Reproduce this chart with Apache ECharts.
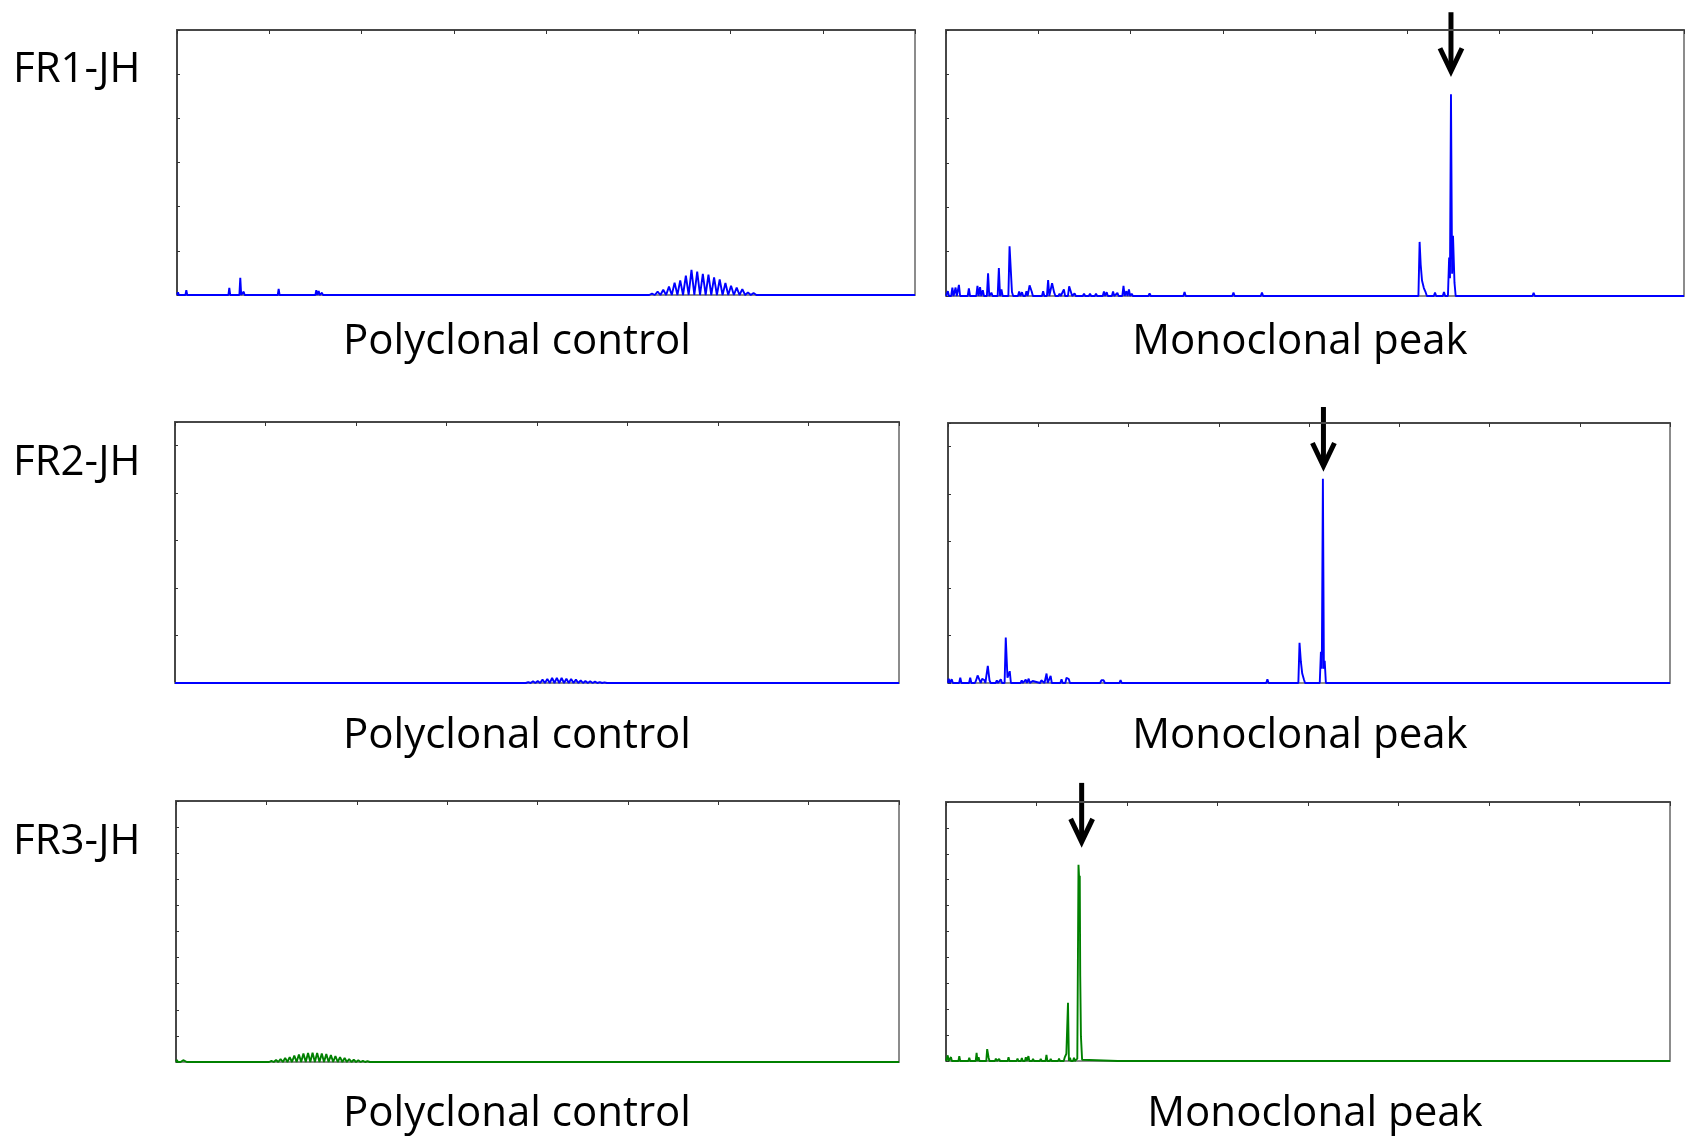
<!DOCTYPE html>
<html>
<head>
<meta charset="utf-8">
<script src="https://cdn.jsdelivr.net/npm/echarts@6/dist/echarts.min.js"></script>
<style>
  html, body { margin: 0; padding: 0; background: #fff; }
  #chart { width: 1694px; height: 1136px; }
</style>
</head>
<body>
<div id="chart"></div>
<script>
// x runs 0..800 across every panel (8 tick intervals), y is in left-axis tick units
const rowLabels = ["FR1-JH", "FR2-JH", "FR3-JH"];
const colTitles = ["Polyclonal control", "Monoclonal peak"];

// FR1-JH polyclonal: isolated spikes + the comb of peaks
const fr1PolySpikes = [
  [1.1, 0.06], [10.1, 0.11], [56.7, 0.16], [68.6, 0.39], [72.3, 0.075], [99.4, 0.04],
  [110.2, 0.14], [118.2, 0.03], [123.6, 0.03], [129.0, 0.03], [134.4, 0.03], [139.8, 0.03],
  [151.0, 0.11], [153.6, 0.09], [157.2, 0.05], [175.6, 0.02], [225.5, 0.04], [258.0, 0.02]
];
const fr1PolyComb = [
  [514.9, 0.03], [521.0, 0.075], [527.1, 0.12], [533.3, 0.19], [539.4, 0.28], [545.5, 0.33],
  [551.6, 0.44], [557.7, 0.57], [563.9, 0.53], [570.0, 0.48], [576.1, 0.46], [582.2, 0.40],
  [588.3, 0.35], [594.5, 0.27], [600.6, 0.21], [606.7, 0.165], [612.8, 0.135], [618.9, 0.06],
  [625.0, 0.045]
];

// FR1-JH monoclonal
const fr1MonoSpikes = [
  [2.0, 0.11], [6.9, 0.19], [10.4, 0.19], [14.0, 0.25], [24.8, 0.17], [34.1, 0.23], [36.9, 0.2],
  [39.9, 0.13], [45.6, 0.51], [49.2, 0.075], [57.3, 0.63], [60.1, 0.15], [68.9, 1.12], [71.5, 0.09],
  [79.3, 0.1], [82.4, 0.085], [87.2, 0.11], [90.6, 0.24], [92.9, 0.1], [105.3, 0.11], [110.7, 0.36],
  [115.0, 0.29], [117.3, 0.075], [123.1, 0.05], [127.8, 0.15], [133.5, 0.22], [135.5, 0.19],
  [139.4, 0.06], [149.6, 0.05], [156.1, 0.05], [162.6, 0.05], [171.2, 0.1], [174.2, 0.085],
  [181.1, 0.1], [185.8, 0.07], [192.4, 0.23], [195.5, 0.11], [198.3, 0.15], [201.3, 0.05],
  [220.7, 0.06], [236.2, 0.045], [258.6, 0.09], [293.4, 0.045], [311.6, 0.075], [325.2, 0.045],
  [342.5, 0.075], [377.2, 0.03], [410.4, 0.04], [460.7, 0.04], [497.6, 0.04],
  [513.4, 1.22], [514.6, 0.7], [516.0, 0.35], [518.0, 0.18], [520.0, 0.08], [530.1, 0.075],
  [539.8, 0.09], [545.4, 0.87], [546.3, 0.4], [547.4, 4.55], [548.6, 0.5], [549.6, 1.36], [551.2, 0.3],
  [577.8, 0.03], [594.0, 0.04], [614.6, 0.03], [637.0, 0.07], [742.5, 0.045]
];

// FR2-JH polyclonal
const fr2PolySpikes = [[4.0, 0.03]];
const fr2PolyComb = [
  [390.3, 0.02], [395.6, 0.035], [400.8, 0.04], [406.1, 0.07], [411.4, 0.085], [416.7, 0.105],
  [421.9, 0.11], [427.2, 0.105], [432.5, 0.09], [437.7, 0.085], [443.0, 0.07], [448.3, 0.057],
  [453.5, 0.042], [458.8, 0.035], [464.1, 0.028], [469.4, 0.02], [474.6, 0.015]
];

// FR2-JH monoclonal
const fr2MonoSpikes = [
  [0.8, 0.09], [4.1, 0.08], [13.6, 0.11], [24.6, 0.11], [31.2, 0.06], [32.8, 0.16], [35.0, 0.14],
  [37.8, 0.09], [40.1, 0.063], [44.1, 0.36], [46.0, 0.057], [54.1, 0.057], [58.5, 0.078],
  [64.0, 0.96], [65.9, 0.11], [68.4, 0.25], [76.1, 0.042], [81.7, 0.057], [86.1, 0.07],
  [89.4, 0.09], [93.8, 0.042], [103.4, 0.057], [105.6, 0.063], [109.2, 0.2], [113.7, 0.15],
  [120.3, 0.042], [125.8, 0.078], [131.3, 0.11], [133.8, 0.085], [149.7, 0.028], [169.9, 0.057],
  [172.5, 0.057], [191.2, 0.063], [197.5, 0.036], [353.9, 0.078],
  [389.5, 0.85], [391.0, 0.45], [392.5, 0.2], [394.3, 0.08],
  [413.2, 0.66], [414.2, 0.3], [415.4, 4.32], [416.5, 0.3], [417.4, 0.47], [425.6, 0.02], [448.0, 0.015]
];

// FR3-JH polyclonal
const fr3PolySpikes = [[1.0, 0.08], [4.0, 0.06], [8.0, 0.07], [13.0, 0.03]];
const fr3PolyComb = [
  [105.6, 0.04], [110.7, 0.077], [115.7, 0.115], [120.8, 0.153], [125.8, 0.19], [130.9, 0.25],
  [136.0, 0.29], [141.0, 0.33], [146.1, 0.345], [151.1, 0.356], [156.2, 0.345], [161.3, 0.33],
  [166.3, 0.31], [171.4, 0.27], [176.4, 0.23], [181.5, 0.19], [186.6, 0.153], [191.6, 0.115],
  [196.7, 0.088], [201.7, 0.065], [206.8, 0.046], [211.9, 0.03]
];

// FR3-JH monoclonal
const fr3MonoSpikes = [
  [1.9, 0.22], [5.5, 0.15], [14.7, 0.19], [25.7, 0.13], [33.8, 0.31], [36.0, 0.15], [45.5, 0.46],
  [47.1, 0.13], [55.1, 0.09], [58.7, 0.08], [69.1, 0.15], [79.0, 0.09], [83.8, 0.12], [88.2, 0.15],
  [91.1, 0.19], [96.2, 0.08], [104.7, 0.08], [111.0, 0.24], [115.7, 0.08], [124.9, 0.09],
  [131.1, 0.13], [133.0, 0.28], [134.8, 2.25], [137.0, 0.13], [141.4, 0.13], [145.1, 0.09],
  [146.4, 7.58], [147.2, 7.0], [147.8, 7.15], [148.3, 3.3], [149.1, 0.95], [150.4, 0.05],
  [190.6, 0.04], [209.4, 0.04], [214.4, 0.04], [323.4, 0.05]
];

// arrows over the monoclonal peaks: [panel, x, y of arrow tip]
const arrows = [[1, 547.4, 5.07], [3, 416.0, 4.59], [5, 149.9, 8.46]];

const BLUE = "#0000ff";
const GREEN = "#008000";

const panels = [
  { box: [177, 30, 738, 265], yMax: 6, color: BLUE, spikes: fr1PolySpikes, comb: fr1PolyComb, w: 1.0 },
  { box: [946, 30, 738, 266], yMax: 6, color: BLUE, spikes: fr1MonoSpikes, comb: [], w: 1.3 },
  { box: [175, 422, 724, 261], yMax: 5.5, color: BLUE, spikes: fr2PolySpikes, comb: fr2PolyComb, w: 1.0 },
  { box: [948, 423, 722, 260], yMax: 5.5, color: BLUE, spikes: fr2MonoSpikes, comb: [], w: 1.3 },
  { box: [176, 801, 723, 261], yMax: 10, color: GREEN, spikes: fr3PolySpikes, comb: fr3PolyComb, w: 1.0 },
  { box: [946, 802, 724, 259], yMax: 10, color: GREEN, spikes: fr3MonoSpikes, comb: [], w: 1.0 }
];

// spikes drop back to the baseline on both sides; comb peaks zigzag through the baseline
function buildTrace(spikes, comb, w) {
  const pts = [];
  spikes.forEach((p, i) => {
    const prev = spikes[i - 1], next = spikes[i + 1];
    if (!prev || prev[0] + w < p[0] - w) pts.push([p[0] - w, 0]);
    pts.push([p[0], p[1]]);
    if (!next || p[0] + w < next[0] - w) pts.push([p[0] + w, 0]);
  });
  comb.forEach((p, i) => {
    const prev = comb[i - 1], next = comb[i + 1];
    if (!prev) pts.push([p[0] - (next[0] - p[0]) / 2, 0]);
    pts.push([p[0], p[1]]);
    pts.push([next ? (p[0] + next[0]) / 2 : p[0] + (p[0] - prev[0]) / 2, 0]);
  });
  pts.sort((a, b) => a[0] - b[0]);
  return [[0, 0]].concat(pts, [[800, 0]]);
}

const dark = "#474747";
const light = "#8c8c8c";

const grid = [], xAxis = [], yAxis = [], series = [];
panels.forEach((p, i) => {
  grid.push({ left: p.box[0], top: p.box[1], width: p.box[2], height: p.box[3] });
  const base = { gridIndex: i, type: "value", min: 0, max: 800, interval: 100,
    axisLabel: { show: false }, splitLine: { show: false } };
  xAxis.push(Object.assign({}, base, { position: "bottom",
    axisLine: { show: true, onZero: false, lineStyle: { color: light, width: 2 } },
    axisTick: { show: false } }));
  xAxis.push(Object.assign({}, base, { position: "top",
    axisLine: { show: true, onZero: false, lineStyle: { color: dark, width: 2 } },
    axisTick: { show: true, inside: true, length: 4, lineStyle: { color: "#333", width: 1 } } }));
  const ybase = { gridIndex: i, type: "value", min: 0, max: p.yMax, interval: 1,
    axisLabel: { show: false }, splitLine: { show: false } };
  yAxis.push(Object.assign({}, ybase, { position: "left",
    axisLine: { show: true, onZero: false, lineStyle: { color: dark, width: 2 } },
    axisTick: { show: true, inside: true, length: 3, lineStyle: { color: "#333", width: 1 } } }));
  yAxis.push(Object.assign({}, ybase, { position: "right",
    axisLine: { show: true, onZero: false, lineStyle: { color: light, width: 2 } },
    axisTick: { show: false } }));
  series.push({
    type: "line", xAxisIndex: i * 2, yAxisIndex: i * 2,
    data: buildTrace(p.spikes, p.comb, p.w),
    showSymbol: false, symbol: "none", silent: true, clip: true,
    lineStyle: { color: p.color, width: 1.9 }
  });
});

const chart = echarts.init(document.getElementById("chart"));
chart.setOption({ animation: false, backgroundColor: "#fff", grid, xAxis, yAxis, series });

const font = '"Open Sans", "Noto Sans", sans-serif';
const graphic = [];
const rowY = [70, 463, 842];
const titleY = [342, 736, 1114];
rowLabels.forEach((t, r) => {
  graphic.push({ type: "text", x: 13, y: rowY[r],
    style: { text: t, fontSize: 42, fontFamily: font, fill: "#000", align: "left", verticalAlign: "middle" } });
  [517, r === 2 ? 1315 : 1300].forEach((cx, c) => {
    graphic.push({ type: "text", x: cx, y: titleY[r],
      style: { text: colTitles[c], fontSize: 42, fontFamily: font, fill: "#000", align: "center", verticalAlign: "middle" } });
  });
});

arrows.forEach(([s, x, y]) => {
  const [px, py] = chart.convertToPixel({ seriesIndex: s }, [x, y]);
  graphic.push({ type: "line", shape: { x1: px, y1: py - 59, x2: px, y2: py - 4 },
    style: { stroke: "#000", lineWidth: 5 } });
  graphic.push({ type: "polyline", shape: { points: [[px - 11, py - 23], [px, py], [px + 11, py - 23]] },
    style: { stroke: "#000", lineWidth: 5, fill: null, lineJoin: "miter" } });
});

chart.setOption({ graphic });
</script>
</body>
</html>
